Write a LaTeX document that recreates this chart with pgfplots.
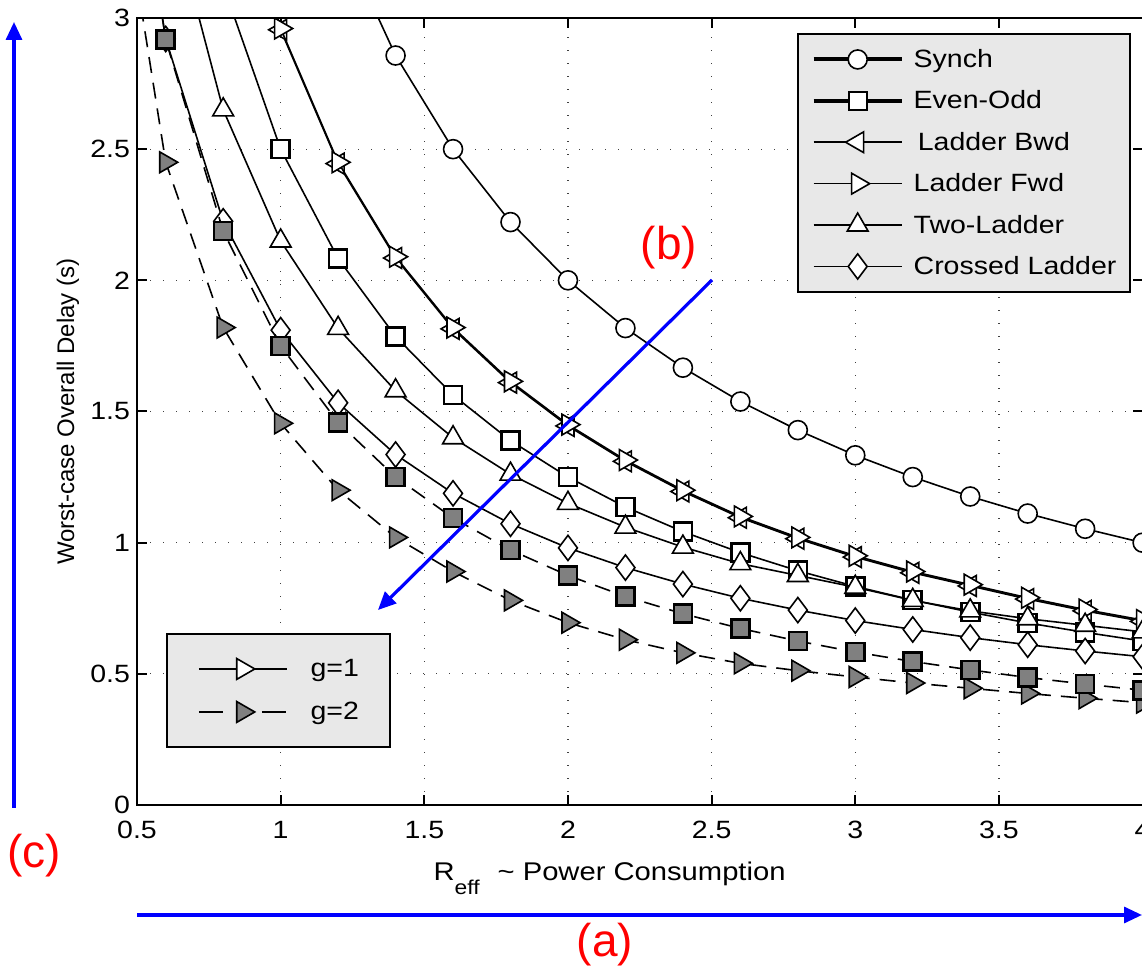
\documentclass[border=0pt]{standalone}
\usepackage{fontspec}
\setmainfont{Liberation Sans}[FakeStretch=1.14]
\newfontfamily\plainfont{Liberation Sans}
\usepackage{pgfplots}
\usepackage{pgfplotstable}
\pgfplotsset{compat=1.18}
\usetikzlibrary{arrows.meta}

\pgfplotstableread{
x    synch  eo     lb     lf     two    cr     eog    lfg
0.4  nan    nan    nan    nan    nan    4.30   4.375  3.83
0.6  nan    nan    nan    nan    3.483  2.92   2.917  2.45
0.8  nan    3.125  3.69   3.70   2.65   2.225  2.1875 1.82
1.0  nan    2.5    2.955  2.96   2.15   1.81   1.75   1.455
1.2  3.333  2.083  2.445  2.45   1.817  1.533  1.458  1.20
1.4  2.857  1.786  2.085  2.09   1.579  1.336  1.25   1.02
1.6  2.5    1.5625 1.815  1.82   1.40   1.188  1.094  0.89
1.8  2.222  1.389  1.61   1.615  1.261  1.072  0.972  0.78
2.0  2.0    1.25   1.445  1.45   1.15   0.98   0.875  0.695
2.2  1.818  1.136  1.31   1.315  1.059  0.905  0.795  0.63
2.4  1.667  1.042  1.195  1.20   0.983  0.842  0.729  0.58
2.6  1.538  0.962  1.095  1.10   0.92   0.788  0.673  0.54
2.8  1.429  0.893  1.015  1.02   0.875  0.743  0.625  0.512
3.0  1.333  0.833  0.945  0.95   0.83   0.703  0.583  0.488
3.2  1.25   0.781  0.885  0.89   0.78   0.669  0.547  0.465
3.4  1.176  0.735  0.835  0.84   0.74   0.638  0.515  0.445
3.6  1.111  0.694  0.785  0.79   0.71   0.611  0.486  0.425
3.8  1.053  0.658  0.74   0.745  0.685  0.587  0.461  0.407
4.0  1.0    0.625  0.70   0.705  0.66   0.565  0.4375 0.39
}\data

\pgfplotsset{
  synchstyle/.style={black, line width=0.8pt, mark=*, mark size=4.75pt, mark options={solid, fill=white, line width=0.8pt}},
  eostyle/.style={black, line width=0.8pt, mark=square*, mark size=4.5pt, mark options={solid, fill=white, line width=1.3pt}},
  lbstyle/.style={black, line width=0.8pt, mark=triangle*, mark size=6pt, mark options={solid, fill=white, rotate=90, line width=0.8pt}},
  lfstyle/.style={black, line width=0.8pt, mark=triangle*, mark size=6pt, mark options={solid, fill=white, rotate=-90, line width=0.8pt}},
  twostyle/.style={black, line width=0.8pt, mark=triangle*, mark size=6pt, mark options={solid, fill=white, line width=0.8pt}},
  crstyle/.style={black, line width=0.8pt, mark=diamond*, mark size=6.3pt, mark options={solid, fill=white, line width=0.8pt}},
  eogstyle/.style={black, line width=0.8pt, dash pattern=on 8pt off 5pt, mark=square*, mark size=4.5pt, mark options={solid, fill=black!50, line width=1.3pt}},
  lfgstyle/.style={black, line width=0.8pt, dash pattern=on 8pt off 5pt, mark=triangle*, mark size=6pt, mark options={solid, fill=black!50, rotate=-90, line width=0.8pt}},
  myaxis/.style={
    at={(68.5pt,82.5pt)}, anchor=south west,
    width=502.8pt, height=393.5pt, scale only axis,
    xmin=0.5, xmax=4, ymin=0, ymax=3,
  },
  legend image code/.code={\draw[mark repeat=2,mark phase=2,#1] plot coordinates {(0pt,0pt) (22pt,0pt) (44pt,0pt)};},
}

\begin{document}
\begin{tikzpicture}
\useasboundingbox (0,0) rectangle (571pt,485pt);
\begin{axis}[myaxis,
  xtick={0.5,1,1.5,2,2.5,3,3.5,4},
  ytick={0,0.5,1,1.5,2,2.5,3},
  grid=major,
  grid style={black!75, line width=0.6pt, dash pattern=on 0.6pt off 5.9pt},
  axis line style={line width=1pt},
  major tick length=5pt,
  tick style={black, line width=1pt},
  tick align=inside,
  ticklabel style={font=\fontsize{12.5}{15}\selectfont},
  xticklabel style={yshift=-4.5pt},
  /pgf/number format/assume math mode=true,
  clip marker paths=true,
  xlabel={R\raisebox{-7pt}{\fontsize{10}{10}\selectfont eff}\hspace{9pt}\textasciitilde\ Power Consumption},
  xlabel style={at={(axis description cs:0.47,-0.0724)}, anchor=north, inner sep=0pt, font=\fontsize{12.8}{15}\selectfont},
  ylabel={\plainfont Worst-case Overall Delay (s)},
  ylabel style={at={(axis description cs:-0.0686,0.5)}, anchor=center, inner sep=0pt, font=\fontsize{12}{14}\selectfont},
  legend style={at={(rel axis cs:0.656,0.981)}, anchor=north west,
    fill=black!9, draw=black, line width=1pt,
    inner xsep=7pt, inner ysep=2.4pt, row sep=0pt, column sep=5pt,
    font=\fontsize{12.5}{15}\selectfont,
    nodes={inner sep=0pt, text height=14.35pt, text depth=6.35pt},
    cells={anchor=west}},
]
\addplot[synchstyle, forget plot] table[x=x, y=synch] {\data};
\addplot[eostyle, forget plot] table[x=x, y=eo] {\data};
\addplot[lbstyle, forget plot] table[x=x, y=lb] {\data};
\addplot[lfstyle, forget plot] table[x=x, y=lf] {\data};
\addplot[twostyle, forget plot] table[x=x, y=two] {\data};
\addplot[crstyle, forget plot] table[x=x, y=cr] {\data};
\addplot[lfgstyle, forget plot] table[x=x, y=lfg] {\data};
\addplot[eogstyle, forget plot] table[x=x, y=eog] {\data};

\addlegendimage{black, line width=2pt, mark=*, mark size=4.75pt, mark options={solid, fill=white, line width=0.8pt}}
\addlegendentry{Synch}
\addlegendimage{black, line width=2pt, mark=square*, mark size=4.5pt, mark options={solid, fill=white, line width=1pt}}
\addlegendentry{Even-Odd}
\addlegendimage{lbstyle}
\addlegendentry{\,Ladder Bwd}
\addlegendimage{lfstyle}
\addlegendentry{Ladder Fwd}
\addlegendimage{twostyle}
\addlegendentry{Two-Ladder}
\addlegendimage{crstyle}
\addlegendentry{Crossed Ladder}
\end{axis}

\begin{axis}[myaxis, hide axis,
  legend style={at={(rel axis cs:0.0288,0.2186)}, anchor=north west,
    fill=black!9, draw=black, line width=1pt,
    inner xsep=15.5pt, inner ysep=6.75pt, row sep=0pt, column sep=11.5pt,
    font=\fontsize{12.5}{15}\selectfont,
    nodes={inner sep=0pt, text height=14.75pt, text depth=6.75pt},
    cells={anchor=west}},
]
\addlegendimage{black, line width=0.8pt, mark=triangle*, mark size=6pt, mark options={solid, fill=white, rotate=-90, line width=0.8pt}}
\addlegendentry{g=1}
\addlegendimage{black, line width=0.8pt, dash pattern=on 12pt off 19.5pt, mark=triangle*, mark size=6pt, mark options={solid, fill=black!50, rotate=-90, line width=0.8pt}}
\addlegendentry{g=2}
\end{axis}

% annotation arrows and labels
\draw[blue, line width=1.6pt, -{Triangle[length=9pt,width=8pt]}] (68.5pt,27.5pt) -- (571pt,27.5pt);
\draw[blue, line width=1.6pt, -{Triangle[length=9pt,width=8pt]}] (7pt,81pt) -- (7pt,474pt);
\draw[blue, line width=1.6pt, -{Triangle[length=9pt,width=8pt]}] (356pt,345pt) -- (189pt,180pt);
\node[red, font=\plainfont\fontsize{23}{26}\selectfont, inner sep=0pt] at (302.5pt,12.5pt) {(a)};
\node[red, font=\plainfont\fontsize{23}{26}\selectfont, inner sep=0pt] at (334.5pt,361pt) {(b)};
\node[red, font=\plainfont\fontsize{23}{26}\selectfont, inner sep=0pt] at (17pt,57pt) {(c)};
\end{tikzpicture}
\end{document}
